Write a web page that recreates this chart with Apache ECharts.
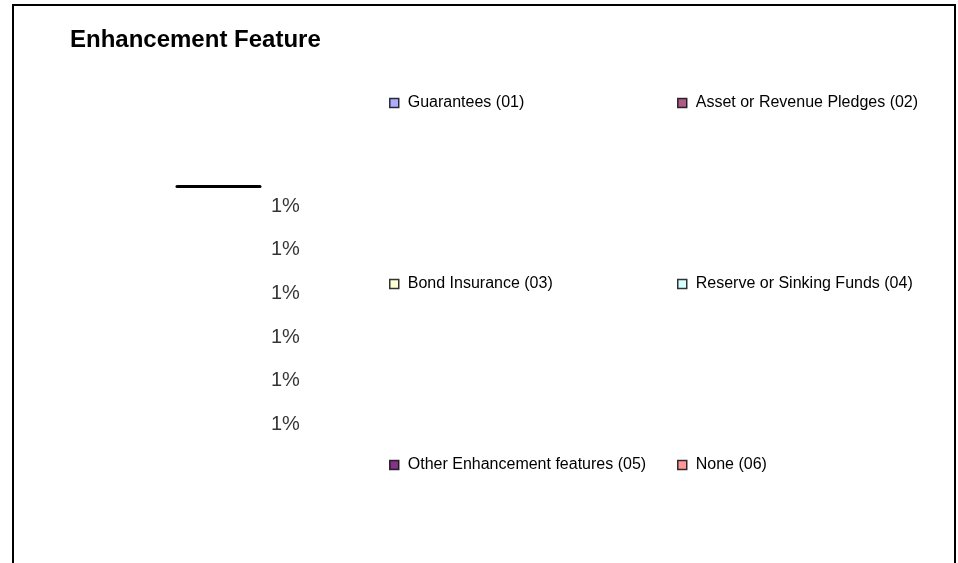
<!DOCTYPE html>
<html>
<head>
<meta charset="utf-8">
<script src="https://cdn.jsdelivr.net/npm/echarts@6/dist/echarts.min.js"></script>
<style>
  html, body { margin: 0; padding: 0; background: #fff; }
  #chart { width: 958px; height: 563px; }
</style>
</head>
<body>
<div id="chart"></div>
<script>
// categories and their share labels
var featureNames = [
    'Guarantees (01)',
    'Asset or Revenue Pledges (02)',
    'Bond Insurance (03)',
    'Reserve or Sinking Funds (04)',
    'Other Enhancement features (05)',
    'None (06)'
];
var featurePct = [1, 1, 1, 1, 1, 1];
var featureColors = ['#9999FF', '#993366', '#FFFFCC', '#CCFFFF', '#660066', '#FF8080'];

// legend slots: [left, centre y]
var legendSlots = [[389, 103], [677, 103], [389, 284], [677, 284], [389, 465], [677, 465]];

var font = "'Liberation Sans', Arial, sans-serif";
var chart = echarts.init(document.getElementById('chart'));

var series = featureNames.map(function(name, i) {
    return {
        name: name,
        type: 'scatter',
        symbolSize: 0,
        itemStyle: { color: featureColors[i] },
        label: {
            show: true,
            position: 'right',
            distance: 11,
            color: '#000',
            fontFamily: font,
            fontSize: 20,
            formatter: function(p) { return p.value[0] + '%'; }
        },
        emphasis: { disabled: true },
        data: [[featurePct[i], name]]
    };
});

var legends = featureNames.map(function(name, i) {
    return {
        data: [name],
        left: legendSlots[i][0],
        top: legendSlots[i][1] - 9,
        padding: 0,
        icon: 'rect',
        itemWidth: 9,
        itemHeight: 9,
        selectedMode: false,
        itemStyle: { borderColor: '#000', borderWidth: 1.5 },
        textStyle: {
            color: '#000',
            fontFamily: font,
            fontSize: 16,
            lineHeight: 18,
            padding: [0, 0, 0, 4]
        }
    };
});

var option = {
    animation: false,
    title: {
        text: 'Enhancement Feature',
        left: 70,
        top: 28,
        padding: 0,
        textStyle: { color: '#000', fontFamily: font, fontSize: 24, fontWeight: 'bold' }
    },
    legend: legends,
    grid: { left: 177, width: 83, top: 206, height: 218.5 },
    xAxis: {
        type: 'value',
        position: 'top',
        offset: 20,
        min: 0,
        max: 1,
        axisLine: { show: true, lineStyle: { color: '#000', width: 3 } },
        axisTick: { show: false },
        axisLabel: { show: false },
        splitLine: { show: false }
    },
    yAxis: {
        type: 'category',
        inverse: true,
        boundaryGap: false,
        data: featureNames,
        show: false
    },
    graphic: [{
        type: 'rect',
        shape: { x: 13, y: 5, width: 942, height: 700 },
        style: { fill: null, stroke: '#000', lineWidth: 2 },
        silent: true
    }],
    series: series
};

chart.setOption(option);
</script>
</body>
</html>
